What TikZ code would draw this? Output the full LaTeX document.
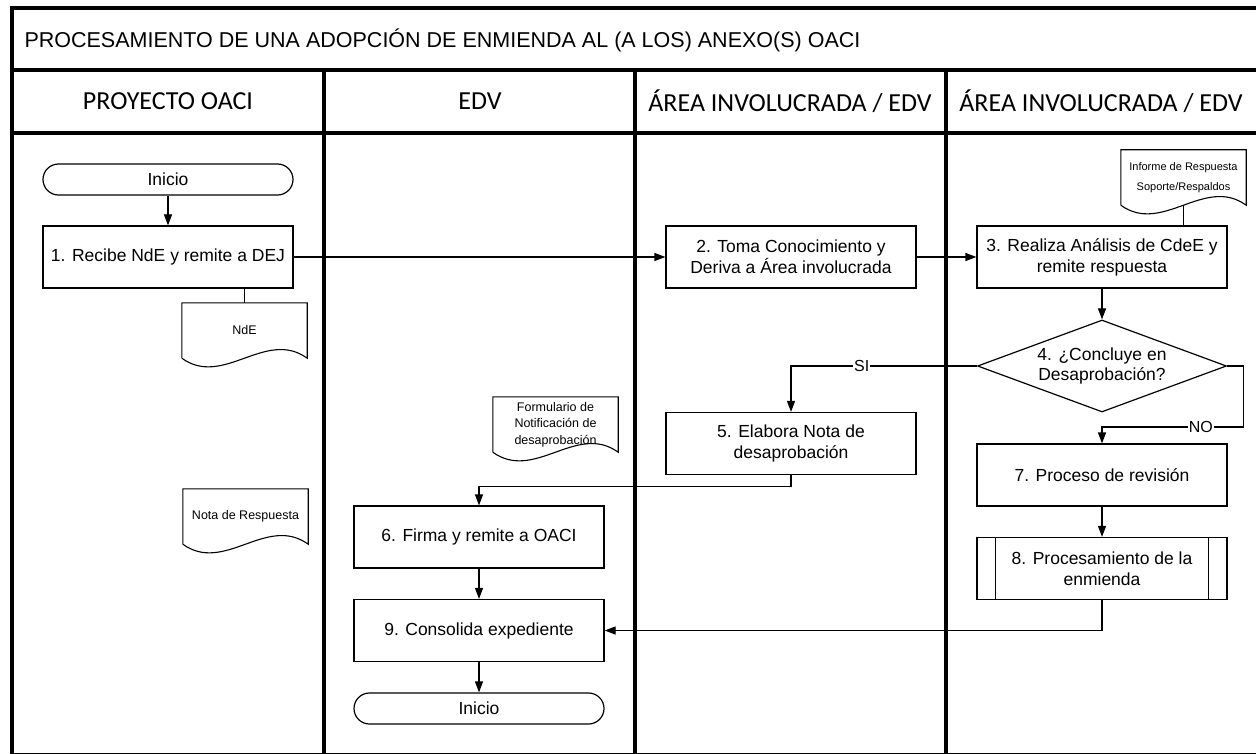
\documentclass[tikz,border=0pt]{standalone}
\usepackage{fontspec}
\setmainfont{Liberation Sans}
\newfontfamily\hdrfont{Carlito}
\usetikzlibrary{arrows.meta,shapes.geometric,calc}
\newcommand\mydocshape[1]{\draw[docline] (#1.south west) -- (#1.north west) -- (#1.north east) -- (#1.south east) .. controls +(-41.67,-30) and +(41.67,30) .. (#1.south west);}
\begin{document}
\begin{tikzpicture}[x=1pt,y=-1pt,
  frame/.style={line width=4.2pt},
  box/.style={draw, line width=1.2pt, minimum width=250pt, minimum height=62pt, align=center, inner sep=2pt, font=\fontsize{17.5}{21}\selectfont},
  term/.style={draw, line width=1.2pt, rounded corners=15.5pt, minimum width=250pt, minimum height=31pt, inner sep=0pt, font=\fontsize{17.5}{21}\selectfont},
  dec/.style={draw, diamond, aspect=2.7, line width=1.2pt, minimum width=249pt, minimum height=92pt, inner sep=1pt, align=center, font=\fontsize{17.5}{20}\selectfont},
  doc/.style={draw=none, minimum width=125pt, minimum height=55pt, inner sep=0pt, align=center},
  docline/.style={line width=1.1pt},
  hdr/.style={font=\hdrfont\fontsize{26}{30}\selectfont},
  conn/.style={line width=1.2pt},
  arr/.style={line width=1.2pt, -{Triangle[length=11pt,width=8pt]}},
  lbl/.style={fill=white, inner sep=1pt, font=\fontsize{16}{19}\selectfont}
]
\useasboundingbox (0,0) rectangle (1256,754);
\fill[white] (0,0) rectangle (1256,754);
% frame
\draw[frame] (12,756) -- (12,8) -- (1258,8);
\draw[frame] (12,70) -- (1258,70);
\draw[frame] (12,133) -- (1258,133);
\draw[frame] (324,70) -- (324,756);
\draw[frame] (635,70) -- (635,756);
\draw[frame] (946,70) -- (946,756);
\draw[line width=1pt] (12,753.5) -- (1258,753.5);
% title and headers
\node[anchor=west, font=\fontsize{21.5}{25}\selectfont] (title) at (21,40) {PROCESAMIENTO DE UNA ADOPCIÓN DE ENMIENDA AL (A LOS) ANEXO(S) OACI};
\node[hdr] (h1) at (168,101) {PROYECTO OACI};
\node[hdr] (h2) at (480,101) {EDV};
\node[hdr] (h3) at (790,101) {ÁREA INVOLUCRADA / EDV};
\node[hdr] (h4) at (1101,101) {ÁREA INVOLUCRADA / EDV};
% nodes
\node[term] (i1) at (168,179.5) {Inicio};
\node[box] (b1) at (168,257) {1. Recibe NdE y remite a DEJ};
\node[box] (b2) at (791,257) {2. Toma Conocimiento y\\Deriva a Área involucrada};
\node[box] (b3) at (1102,257) {3. Realiza Análisis de CdeE y\\remite respuesta};
\node[dec] (d4) at (1102,366) {4. ¿Concluye en\\Desaprobación?};
\node[box] (b5) at (791,443.5) {5. Elabora Nota de\\desaprobación};
\node[box] (b6) at (479,537) {6. Firma y remite a OACI};
\node[box] (b9) at (479,630.5) {9. Consolida expediente};
\node[term] (i2) at (479,708.5) {Inicio};
\node[box] (b7) at (1102,475) {7. Proceso de revisión};
\node[box] (b8) at (1102,568.5) {8. Procesamiento de la\\enmienda};
\draw[line width=1.2pt] ($(b8.north west)+(19,0)$) -- ($(b8.south west)+(19,0)$);
\draw[line width=1.2pt] ($(b8.north east)+(-19,0)$) -- ($(b8.south east)+(-19,0)$);
% documents
\node[doc, font=\fontsize{12.5}{15}\selectfont] (nde) at (244.5,330.5) {NdE};
\mydocshape{nde}
\node[doc, font=\fontsize{11}{20}\selectfont] (inf) at (1183.5,177.5) {Informe de Respuesta\\Soporte/Respaldos};
\mydocshape{inf}
\node[doc, font=\fontsize{12.5}{16.5}\selectfont] (form) at (555.5,424.5) {Formulario de\\Notificación de\\desaprobación};
\mydocshape{form}
\node[doc, font=\fontsize{12.5}{15}\selectfont] (nota) at (245.5,516.5) {Nota de Respuesta};
\mydocshape{nota}
% connectors
\draw[arr] (i1) -- (b1);
\draw[conn] (nde.north) -- (nde.north |- b1.south);
\draw[arr] (b1) -- (b2);
\draw[arr] (b2) -- (b3);
\draw[conn] (inf.south) -- (inf.south |- b3.north);
\draw[arr] (b3) -- (d4);
\draw[arr] (d4.west) -| node[lbl, pos=0.31] {SI} (b5.north);
\coordinate (nojoin) at (1102,427);
\draw[arr] (d4.east) -- ++(16,0) coordinate (noR) -- (noR |- nojoin) -- node[lbl, pos=0.3] {NO} (nojoin) -- (b7.north);
\draw[conn] ($(form.east)+(0,3.5)$) -- ($(form.east)+(0,3.5)$ -| b5.west);
\draw[arr] (b5.south) -- ++(0,11) -| (b6.north);
\draw[conn] ($(nota.east)+(0,5.5)$) -- ($(nota.east)+(0,5.5)$ -| b6.west);
\draw[arr] (b6) -- (b9);
\draw[arr] (b9) -- (i2);
\draw[arr] (b7) -- (b8);
\draw[arr] (b8.south) |- (b9.east);
\end{tikzpicture}
\end{document}
